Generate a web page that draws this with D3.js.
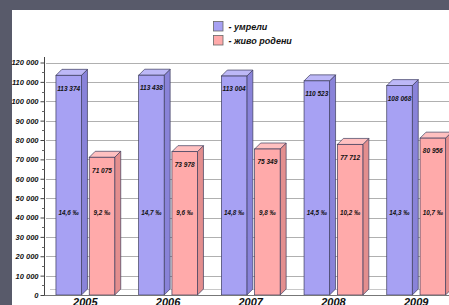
<!DOCTYPE html>
<html>
<head>
<meta charset="utf-8">
<script src="https://cdn.jsdelivr.net/npm/d3@7"></script>
<style>
  html, body { margin: 0; padding: 0; background: #585a6a; }
  svg { display: block; }
  text { font-family: "Liberation Sans", Arial, sans-serif; font-weight: bold; font-style: italic; fill: #111; }
</style>
</head>
<body>
<svg id="chart" width="449" height="305"></svg>
<script>
const years = ["2005", "2006", "2007", "2008", "2009"];
const seriesNames = ["- умрели", "- живо родени"];
const deaths = [113374, 113438, 113004, 110523, 108068];
const births = [71075, 73978, 75349, 77712, 80956];
const deathRates = ["14,6 ‰", "14,7 ‰", "14,8 ‰", "14,5 ‰", "14,3 ‰"];
const birthRates = ["9,2 ‰", "9,6 ‰", "9,8 ‰", "10,2 ‰", "10,7 ‰"];
const yTicks = [0, 10000, 20000, 30000, 40000, 50000, 60000, 70000, 80000, 90000, 100000, 110000, 120000];

const colors = [
  { front: "#a7a1f3", side: "#8983d9", top: "#bdb8f7" },
  { front: "#ffaaaa", side: "#e38e8e", top: "#ffc0c0" }
];

const svg = d3.select("#chart");
const W = 449, H = 305;
const base = 295, topY = 62.5;
const dx = 6, dy = -6;

// white panel
svg.append("rect").attr("x", 12).attr("y", 10).attr("width", W - 12).attr("height", H - 10).attr("fill", "#ffffff");

const y = d3.scaleLinear().domain([0, 120000]).range([base, topY]);
const x = d3.scaleBand().domain(years).range([44, 457.5]).padding(0);
const xs = d3.scaleBand().domain([0, 1]).range([0, x.bandwidth()]).paddingInner(0.234).paddingOuter(0.359);

const loc = d3.formatLocale({ decimal: ",", thousands: " ", grouping: [3], currency: ["", ""] });
const fmt = loc.format(",");

// gridlines
svg.append("g").selectAll("line").data(yTicks.filter(d => d > 0)).join("line")
  .attr("x1", 46).attr("x2", W)
  .attr("y1", d => Math.round(y(d)) + 0.5).attr("y2", d => Math.round(y(d)) + 0.5)
  .attr("stroke", "#b0b0b0").attr("stroke-width", 1);

// floor back line
svg.append("line").attr("x1", 44 + dx).attr("x2", W).attr("y1", base + dy + 0.5).attr("y2", base + dy + 0.5)
  .attr("stroke", "#c8c8c8");

// bars
const data = [];
years.forEach((yr, i) => {
  data.push({ yr, s: 0, v: deaths[i], label: fmt(deaths[i]), rate: deathRates[i] });
  data.push({ yr, s: 1, v: births[i], label: fmt(births[i]), rate: birthRates[i] });
});

const bars = svg.append("g").selectAll("g").data(data).join("g");
bars.each(function (d) {
  const g = d3.select(this);
  const x0 = x(d.yr) + xs(d.s), w = xs.bandwidth(), yt = y(d.v);
  const c = colors[d.s];
  g.append("polygon")
    .attr("points", [[x0 + w, yt], [x0 + w + dx, yt + dy], [x0 + w + dx, base + dy], [x0 + w, base]].join(" "))
    .attr("fill", c.side).attr("stroke", "#3c3c5c").attr("stroke-width", 0.7).attr("stroke-linejoin", "round");
  g.append("polygon")
    .attr("points", [[x0, yt], [x0 + dx, yt + dy], [x0 + w + dx, yt + dy], [x0 + w, yt]].join(" "))
    .attr("fill", c.top).attr("stroke", "#3c3c5c").attr("stroke-width", 0.7).attr("stroke-linejoin", "round");
  g.append("rect")
    .attr("x", x0).attr("y", yt).attr("width", w).attr("height", base - yt)
    .attr("fill", c.front).attr("stroke", "#3c3c5c").attr("stroke-width", 0.7);
  g.append("text")
    .attr("x", x0 + w / 2).attr("y", yt + 13).attr("dy", "0.35em")
    .attr("text-anchor", "middle").attr("font-size", 6.5).text(d.label);
  g.append("text")
    .attr("x", x0 + w / 2).attr("y", 213).attr("dy", "0.35em")
    .attr("text-anchor", "middle").attr("font-size", 6.3).text(d.rate);
});

// baseline
svg.append("line").attr("x1", 44).attr("x2", W).attr("y1", base + 0.5).attr("y2", base + 0.5)
  .attr("stroke", "#777").attr("stroke-width", 1);

// y axis
const yAxis = d3.axisLeft(y).tickValues(yTicks).tickFormat(fmt).tickSize(4).tickPadding(2);
const ag = svg.append("g").attr("transform", "translate(44.5,0)").call(yAxis);
ag.select(".domain").attr("stroke", "#444").attr("d", `M0,${base}V57`);
ag.selectAll(".tick line").attr("stroke", "#444");
ag.selectAll(".tick text").attr("font-size", 7.5).attr("font-family", null).attr("fill", "#111");
// minor ticks
svg.append("g").selectAll("line").data(d3.range(5000, 120000, 10000)).join("line")
  .attr("x1", 42).attr("x2", 44.5).attr("y1", d => Math.round(y(d)) + 0.5).attr("y2", d => Math.round(y(d)) + 0.5)
  .attr("stroke", "#666");

// x labels
svg.append("g").selectAll("text").data(years).join("text")
  .attr("x", d => x(d) + x.bandwidth() / 2).attr("y", 305.5)
  .attr("text-anchor", "middle").attr("font-size", 11).text(d => d);

// legend
const lg = svg.append("g").selectAll("g").data(seriesNames).join("g")
  .attr("transform", (d, i) => `translate(213.5,${21.5 + i * 14})`);
lg.append("rect").attr("width", 9.5).attr("height", 9.5)
  .attr("fill", (d, i) => colors[i].front).attr("stroke", "#666").attr("stroke-width", 0.8);
lg.append("text").attr("x", 15).attr("y", 5).attr("dy", "0.35em").attr("font-size", 9).text(d => d);
</script>
</body>
</html>
